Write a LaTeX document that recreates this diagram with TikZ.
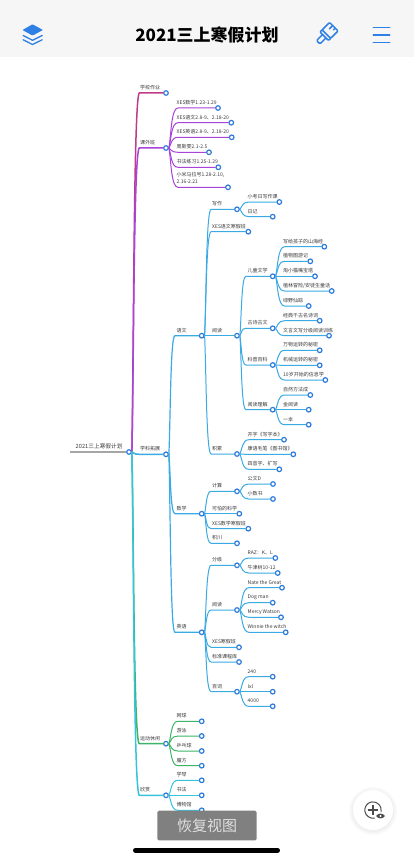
\documentclass[tikz,border=0pt]{standalone}
\usepackage{fontspec}
\setmainfont{Noto Sans CJK SC}
\usetikzlibrary{calc}
\definecolor{dotblue}{HTML}{2F7BDC}
\definecolor{iconblue}{HTML}{2F80E4}
\definecolor{barbg}{HTML}{F6F6F6}
\definecolor{labelgray}{HTML}{3A3A3A}
\definecolor{cpink}{HTML}{C03C88}
\definecolor{cpurple}{HTML}{A845D8}
\definecolor{cblue}{HTML}{3AAAE4}
\definecolor{cgreen}{HTML}{3DB468}
\definecolor{ccyan}{HTML}{35C4DC}
\tikzset{
  mapdot/.style={circle,draw=dotblue,fill=white,line width=1.2pt,minimum size=4.6pt,inner sep=0pt},
  maplabel/.style={anchor=west,inner sep=0pt,text=labelgray,font=\fontsize{5}{6.2}\selectfont,align=left},
  branchline/.style={line width=1pt,line cap=round},
  trunkline/.style={line width=1.5pt,line cap=round},
  iconline/.style={draw=iconblue,line width=1.5pt,line cap=round,line join=round}
}
% \linkto[style]{parent}{child}{bend}
\newcommand{\linkto}[4][branchline]{%
  \draw[#1] let \p1=(#2.east),\p2=(#3.west),\n1={#4} in
    (\p1) .. controls (\x1+0.22*\n1,{\y1+0.3*(\y2-\y1)}) and (\x1+0.22*\n1,\y2) .. (\x1+\n1-1pt,\y2) -- (\p2);}
% \mapnode{name}{parent}{dotx}{y}{labelx}{text}{colour}{bend}
\newcommand{\mapnode}[8]{%
  \node[mapdot] (#1) at (#3,#4) {};
  \node[maplabel] (#1t) at (#5,#4-5.3) {#6};
  \linkto[branchline,#7]{#2}{#1}{#8}}
\newcommand{\trunknode}[7]{%
  \node[mapdot] (#1) at (#3,#4) {};
  \node[maplabel] (#1t) at (#5,#4-5.3) {#6};
  \linkto[trunkline,#7]{#2}{#1}{8.5}}
\begin{document}
\begin{tikzpicture}[x=1pt,y=-1pt]
\useasboundingbox (0,0) rectangle (414,861);
\fill[white] (0,0) rectangle (414,861);
\fill[barbg] (0,0) rectangle (414,57);
% top bar
\node[inner sep=0pt,font=\fontsize{17}{20}\bfseries\selectfont] (title) at (207,35) {2021三上寒假计划};
% layers icon
\fill[iconblue,rounded corners=0.8pt] (32.5,24.3) -- (43,30) -- (32.5,35.6) -- (22.5,30) -- cycle;
\draw[iconline,line width=1.3pt] (23.2,35.5) -- (32.5,40.3) -- (42.2,35.5);
\draw[iconline,line width=1.3pt] (23.2,39.8) -- (32.5,44.5) -- (42.2,39.8);
% brush icon
\begin{scope}[shift={(326,34.5)},rotate=-45]
\draw[iconline,rounded corners=1pt] (-6,-11) rectangle (6,-0.5);
\draw[iconline,rounded corners=1pt] (-6,-0.5) -- (-6,2.5) -- (6,2.5) -- (6,-0.5);
\draw[iconline,rounded corners=1.2pt] (-2.4,2.5) -- (-2.4,11) -- (2.4,11) -- (2.4,2.5);
\draw[iconline] (-1.6,-11) -- (-1.6,-6.5);
\draw[iconline] (2,-11) -- (2,-8.5);
\end{scope}
% menu icon
\draw[iconline] (373.3,27.3) -- (389.7,27.3);
\draw[iconline] (373.3,34.8) -- (389.7,34.8);
\draw[iconline] (373.3,42.3) -- (389.7,42.3);
% root
\node[mapdot] (root) at (129,452) {};
\coordinate (rootstart) at (70,452);
\node[maplabel,font=\fontsize{5.7}{7}\selectfont] (roott) at (75.5,446) {2021三上寒假计划};
\draw[line width=1.3pt,gray!70] (rootstart) -- (root.west);
% top branches
\trunknode{school}{root}{166}{93}{140}{学校作业}{cpink}
\trunknode{extra}{root}{166}{148}{140}{课外班}{cpurple}
\mapnode{e1}{extra}{218}{108}{176.5}{XES数学1.23-1.29}{cpurple}{10}
\mapnode{e2}{extra}{231.3}{122.7}{176.5}{XES语文2.8-9、2.18-20}{cpurple}{10}
\mapnode{e3}{extra}{231.7}{137.3}{176.5}{XES英语2.8-9、2.18-20}{cpurple}{10}
\mapnode{e4}{extra}{209}{152.3}{176.5}{周斯雯2.1-2.5}{cpurple}{10}
\mapnode{e5}{extra}{218.3}{167.3}{176.5}{书法练习1.25-1.29}{cpurple}{10}
\node[mapdot] (e6) at (228,187.3) {};
\node[maplabel] (e6t) at (176.5,178) {小米马拉号1.28-2.10,\\2.16-2.21};
\linkto[branchline,cpurple]{extra}{e6}{10}
% subject expansion
\trunknode{subj}{root}{166}{454.3}{140}{学科拓展}{cblue}
% chinese
\mapnode{cn}{subj}{201.7}{335.7}{176.5}{语文}{line width=1.2pt,cblue}{7}
\mapnode{write}{cn}{237}{209.3}{212}{写作}{cblue}{7.5}
\mapnode{w1}{write}{279.3}{202}{247.5}{小考日写作课}{cblue}{10}
\mapnode{w2}{write}{272.7}{216.7}{247.5}{日记}{cblue}{10}
\mapnode{xescn}{cn}{248.3}{231.7}{212}{XES语文寒假班}{cblue}{7.5}
\mapnode{read}{cn}{237}{335.7}{212}{阅读}{cblue}{7.5}
\mapnode{kid}{read}{272.7}{276.3}{247.5}{儿童文学}{cblue}{7}
\mapnode{k1}{kid}{324.3}{246.7}{283}{写给孩子的山海经}{cblue}{10}
\mapnode{k2}{kid}{310.3}{261.3}{283}{植物图游记}{cblue}{10}
\mapnode{k3}{kid}{315}{276.3}{283}{淘小猫嘴宝塔}{cblue}{10}
\mapnode{k4}{kid}{331.7}{291}{283}{植林冒险/安徒生童话}{cblue}{10}
\mapnode{k5}{kid}{308.7}{306}{283}{绿野仙踪}{cblue}{10}
\mapnode{poem}{read}{272.7}{328.3}{247.5}{古诗古文}{cblue}{7}
\mapnode{p1}{poem}{319.7}{320.7}{283}{经典千古名诗词}{cblue}{10}
\mapnode{p2}{poem}{329}{335.7}{283}{文言文写分级阅读训练}{cblue}{10}
\mapnode{sci}{read}{272.7}{365}{247.5}{科普百科}{cblue}{7}
\mapnode{s1}{sci}{319.7}{350.3}{283}{万物运转的秘密}{cblue}{10}
\mapnode{s2}{sci}{319.7}{365.3}{283}{机械运转的秘密}{cblue}{10}
\mapnode{s3}{sci}{325.3}{380}{283}{10岁开始的信息学}{cblue}{10}
\mapnode{rc}{read}{272.7}{409.7}{247.5}{阅读理解}{cblue}{7}
\mapnode{r1}{rc}{310.3}{395}{283}{自然方法成}{cblue}{10}
\mapnode{r2}{rc}{308.7}{409.7}{283}{金阅读}{cblue}{10}
\mapnode{r3}{rc}{308.7}{424.7}{283}{一本}{cblue}{10}
\mapnode{acc}{cn}{237}{454}{212}{积累}{cblue}{7.5}
\mapnode{a1}{acc}{284}{439.7}{247.5}{开字《写字本》}{cblue}{10}
\mapnode{a2}{acc}{293.3}{454.3}{247.5}{康语毛笔《图书馆》}{cblue}{10}
\mapnode{a3}{acc}{279.3}{469.3}{247.5}{四音字、扩写}{cblue}{10}
% maths
\mapnode{math}{subj}{201.7}{513.7}{176.5}{数学}{line width=1.2pt,cblue}{7}
\mapnode{calc}{math}{237}{491.3}{212}{计算}{cblue}{7.5}
\mapnode{c1}{calc}{273}{484}{247.5}{公文D}{cblue}{10}
\mapnode{c2}{calc}{273}{499}{247.5}{小数书}{cblue}{10}
\mapnode{m2}{math}{239.3}{513.7}{212}{可怕的科学}{cblue}{7.5}
\mapnode{m3}{math}{248.3}{528.7}{212}{XES数学寒假班}{cblue}{7.5}
\mapnode{m4}{math}{237}{543.3}{212}{积川}{cblue}{7.5}
% english
\mapnode{en}{subj}{201.7}{632.3}{176.5}{英语}{line width=1.2pt,cblue}{7}
\mapnode{grade}{en}{237}{565.3}{212}{分级}{cblue}{7.5}
\mapnode{g1}{grade}{275.3}{558}{247.5}{RAZ：K、L}{cblue}{10}
\mapnode{g2}{grade}{277.7}{573}{247.5}{牛津树10-12}{cblue}{10}
\mapnode{enread}{en}{237}{610}{212}{阅读}{cblue}{7.5}
\mapnode{b1}{enread}{282}{587.7}{247.5}{Nate the Great}{cblue}{10}
\mapnode{b2}{enread}{272.7}{602.7}{247.5}{Dog man}{cblue}{10}
\mapnode{b3}{enread}{281}{617.3}{247.5}{Mercy Watson}{cblue}{10}
\mapnode{b4}{enread}{285.7}{632.3}{247.5}{Winnie the witch}{cblue}{10}
\mapnode{en3}{en}{239}{647.3}{212}{XES寒假班}{cblue}{7.5}
\mapnode{en4}{en}{239}{662}{212}{标准课程库}{cblue}{7.5}
\mapnode{word}{en}{237}{691.7}{212}{百词}{cblue}{7.5}
\mapnode{o1}{word}{272.7}{676.7}{247.5}{240}{cblue}{10}
\mapnode{o2}{word}{272.7}{691.7}{247.5}{Ixl}{cblue}{10}
\mapnode{o3}{word}{272.7}{706.3}{247.5}{4000}{cblue}{10}
% sport
\trunknode{sport}{root}{166}{743.7}{140}{运动休闲}{cgreen}
\mapnode{q1}{sport}{201.7}{721.3}{176.5}{网球}{cgreen}{10}
\mapnode{q2}{sport}{201.7}{736}{176.5}{游泳}{cgreen}{10}
\mapnode{q3}{sport}{201.7}{751}{176.5}{乒乓球}{cgreen}{10}
\mapnode{q4}{sport}{201.7}{765.7}{176.5}{魔方}{cgreen}{10}
% enjoy
\trunknode{enjoy}{root}{166}{795.3}{140}{欣赏}{ccyan}
\mapnode{h1}{enjoy}{201.7}{780.3}{176.5}{学琴}{ccyan}{10}
\mapnode{h2}{enjoy}{201.7}{795.3}{176.5}{书法}{ccyan}{10}
\mapnode{h3}{enjoy}{201.7}{810.3}{176.5}{博物馆}{ccyan}{10}
% restore button
\node[fill=black!50,rounded corners=1.5pt,minimum width=99.4pt,minimum height=29.6pt,inner sep=0pt,text=white!88!black,font=\fontsize{15}{17}\selectfont] (restore) at (207,825.5) {恢复视图};
% home indicator
\draw[line width=5pt,line cap=round,black] (135.5,850.2) -- (277.5,850.2);
% floating button
\fill[black!2] (373,811) circle (24);
\fill[black!4] (373,811) circle (22.5);
\fill[black!6] (373,811) circle (21);
\node[circle,fill=white,minimum size=40pt,inner sep=0pt] (fab) at (373,810) {};
\draw[line width=1pt,black!70,line cap=round] ([shift={(80:8.2)}]373,810) arc[start angle=80,end angle=370,radius=8.2];
\draw[line width=1.1pt,black!70] (368,810) -- (378,810) (373,805) -- (373,815);
\fill[black!70] (376,816) .. controls (378.5,812.8) and (382.5,812.8) .. (385,816) .. controls (382.5,819.2) and (378.5,819.2) .. (376,816) -- cycle;
\fill[white] (380.5,816) circle (1.1);
\end{tikzpicture}
\end{document}
